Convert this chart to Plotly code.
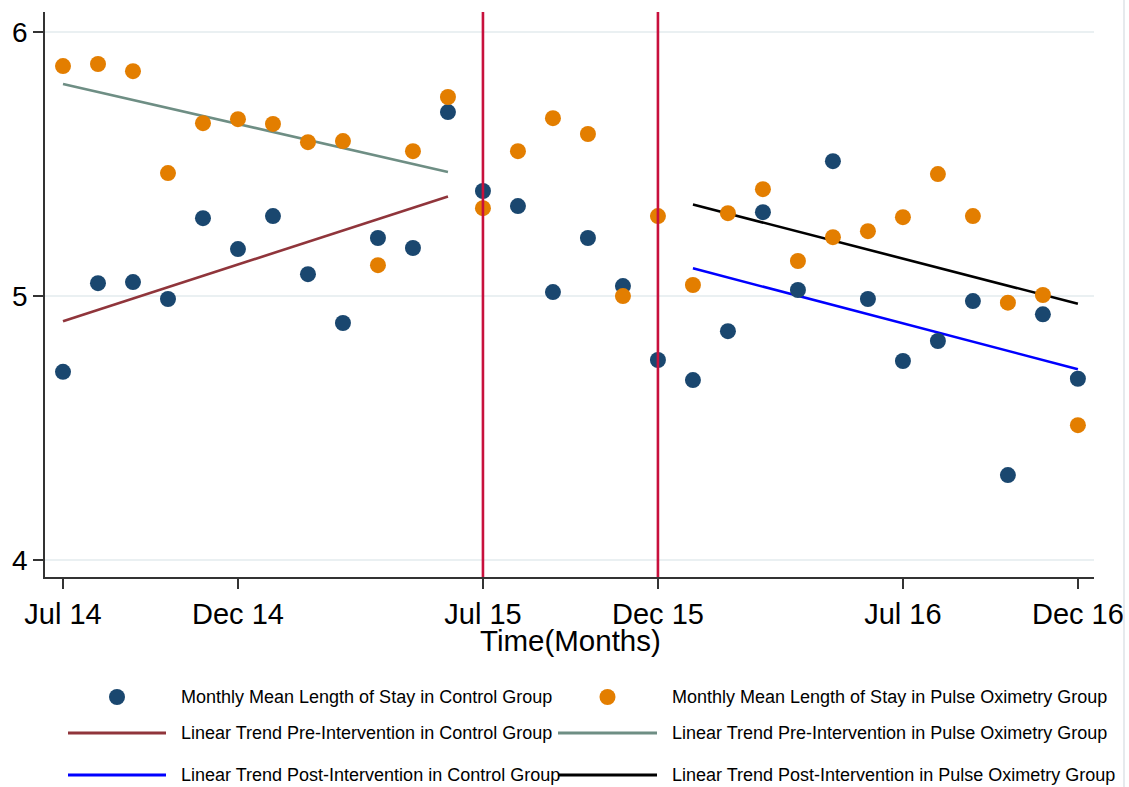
import plotly.graph_objects as go

# Month index 0 = Jul 2014 ... 29 = Dec 2016
months = list(range(30))
tick_months = [0, 5, 12, 17, 24, 29]
tick_labels = ["Jul 14", "Dec 14", "Jul 15", "Dec 15", "Jul 16", "Dec 16"]

# Monthly mean length of stay (days)
control_los = [4.713, 5.049, 5.053, 4.989, 5.295, 5.178, 5.303, 5.083, 4.898, 5.220,
               5.182, 5.697, 5.398, 5.341, 5.015, 5.220, 5.038, 4.758, 4.682, 4.867,
               5.318, 5.023, 5.511, 4.989, 4.754, 4.830, 4.981, 4.322, 4.931, 4.687]
pulse_los = [5.871, 5.879, 5.852, 5.466, 5.655, 5.670, 5.652, 5.583, 5.587, 5.117,
             5.549, 5.754, 5.333, 5.549, 5.674, 5.614, 5.000, 5.303, 5.042, 5.314,
             5.405, 5.133, 5.223, 5.246, 5.299, 5.462, 5.303, 4.975, 5.004, 4.511]

# Linear trend segments (start/end month, start/end value)
pre_months = [0, 11]
post_months = [18, 29]
control_pre_trend = [4.905, 5.377]
pulse_pre_trend = [5.803, 5.470]
control_post_trend = [5.105, 4.723]
pulse_post_trend = [5.347, 4.971]

# Intervention boundaries
intervention_months = [12, 17]

NAVY = "#1a476f"
ORANGE = "#e37e00"
MAROON = "#90353b"
TEAL = "#6e8e84"
BLUE = "#0000ff"
BLACK = "#000000"
CRANBERRY = "#c8103c"
FONT = "Liberation Sans, Arial, sans-serif"

W, H = 1129, 787
ML, MR, MT, MB = 45, 35, 12, 210
PW, PH = W - ML - MR, H - MT - MB


def px_x(px):
    return (px - ML) / PW


def px_y(py):
    return (H - MB - py) / PH


fig = go.Figure()

for xs, ys, col in [
    (pre_months, control_pre_trend, MAROON),
    (pre_months, pulse_pre_trend, TEAL),
    (post_months, control_post_trend, BLUE),
    (post_months, pulse_post_trend, BLACK),
]:
    fig.add_trace(go.Scatter(x=xs, y=ys, mode="lines",
                             line=dict(color=col, width=2.6), showlegend=False,
                             hoverinfo="skip"))

fig.add_trace(go.Scatter(x=months, y=control_los, mode="markers",
                         marker=dict(color=NAVY, size=16, line=dict(width=0)),
                         name="Monthly Mean Length of Stay in Control Group",
                         showlegend=False))
fig.add_trace(go.Scatter(x=months, y=pulse_los, mode="markers",
                         marker=dict(color=ORANGE, size=16, line=dict(width=0)),
                         name="Monthly Mean Length of Stay in Pulse Oximetry Group",
                         showlegend=False))

shapes = []
for m in intervention_months:
    shapes.append(dict(type="line", xref="x", yref="paper", x0=m, x1=m, y0=0, y1=1,
                       line=dict(color=CRANBERRY, width=2.6), layer="above"))

# faint frame edge on the right
shapes.append(dict(type="line", xref="paper", yref="paper",
                   x0=px_x(1124), x1=px_x(1124), y0=px_y(787), y1=px_y(0),
                   line=dict(color="#e6eaed", width=2)))

# Legend, drawn as a two-column key below the axis title
legend_rows = [697, 733, 775]
col_line = [(68, 166), (558, 657)]
col_text = [179, 670]
legend_items = [
    (0, 0, "marker", NAVY, "Monthly Mean Length of Stay in Control Group"),
    (1, 0, "marker", ORANGE, "Monthly Mean Length of Stay in Pulse Oximetry Group"),
    (0, 1, "line", MAROON, "Linear Trend Pre-Intervention in Control Group"),
    (1, 1, "line", TEAL, "Linear Trend Pre-Intervention in Pulse Oximetry Group"),
    (0, 2, "line", BLUE, "Linear Trend Post-Intervention in Control Group"),
    (1, 2, "line", BLACK, "Linear Trend Post-Intervention in Pulse Oximetry Group"),
]
annotations = []
for col, row, kind, color, label in legend_items:
    y = px_y(legend_rows[row])
    x0, x1 = col_line[col]
    if kind == "line":
        shapes.append(dict(type="line", xref="paper", yref="paper",
                           x0=px_x(x0), x1=px_x(x1), y0=y, y1=y,
                           line=dict(color=color, width=2.8)))
    else:
        shapes.append(dict(type="circle", xref="paper", yref="paper",
                           xsizemode="pixel", ysizemode="pixel",
                           xanchor=px_x((x0 + x1) / 2), yanchor=y,
                           x0=-8, x1=8, y0=-8, y1=8,
                           fillcolor=color, line=dict(width=0)))
    annotations.append(dict(text=label, xref="paper", yref="paper",
                            x=px_x(col_text[col]), y=y, xanchor="left", yanchor="middle",
                            showarrow=False, font=dict(family=FONT, size=18, color="#000")))

annotations.append(dict(text="Time(Months)", xref="paper", yref="paper",
                        x=px_x(570), y=px_y(640), xanchor="center", yanchor="middle",
                        showarrow=False, font=dict(family=FONT, size=29.5, color="#000")))

fig.update_layout(
    width=W, height=H,
    margin=dict(l=ML, r=MR, t=MT, b=MB, autoexpand=False),
    paper_bgcolor="white", plot_bgcolor="white",
    font=dict(family=FONT, color="#000"),
    showlegend=False,
    shapes=shapes,
    annotations=annotations,
    xaxis=dict(range=[-0.514, 29.46], tickmode="array", tickvals=tick_months,
               ticktext=tick_labels, ticks="outside", ticklen=10, tickwidth=1.5,
               tickcolor="#333", showline=True, linecolor="#333", linewidth=1.6,
               showgrid=False, zeroline=False, automargin=False,
               tickfont=dict(size=29, family=FONT)),
    yaxis=dict(range=[3.936, 6.076], tickmode="array", tickvals=[4, 5, 6],
               ticks="outside", ticklen=10, tickwidth=1.5, tickcolor="#333",
               showline=True, linecolor="#333", linewidth=1.6, automargin=False,
               showgrid=True, gridcolor="#eaf0f2", gridwidth=2, zeroline=False,
               tickfont=dict(size=28, family=FONT)),
)

fig.write_html("out.html")
